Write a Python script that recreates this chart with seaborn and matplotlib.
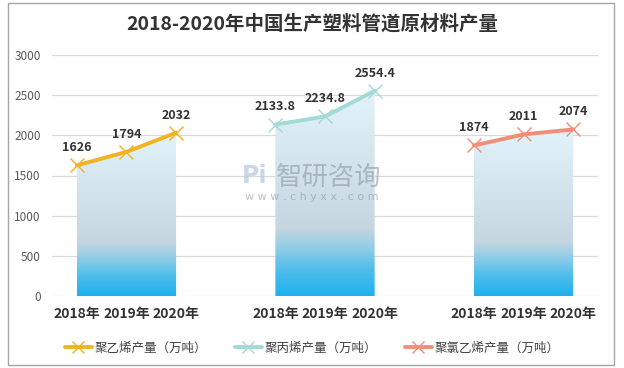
import numpy as np
import pandas as pd
import matplotlib
matplotlib.use("Agg")
import matplotlib.pyplot as plt
from matplotlib.colors import LinearSegmentedColormap
from matplotlib.lines import Line2D
from matplotlib.patches import Rectangle
import seaborn as sns

# ---- data ----
years = ["2018年", "2019年", "2020年"]
series_names = ["聚乙烯产量（万吨）", "聚丙烯产量（万吨）", "聚氯乙烯产量（万吨）"]
pe_values = [1626, 1794, 2032]
pp_values = [2133.8, 2234.8, 2554.4]
pvc_values = [1874, 2011, 2074]
value_labels = [["1626", "1794", "2032"],
                ["2133.8", "2234.8", "2554.4"],
                ["1874", "2011", "2074"]]
y_ticks = [0, 500, 1000, 1500, 2000, 2500, 3000]
title = "2018-2020年中国生产塑料管道原材料产量"

colors = ["#F2B321", "#A2DAD6", "#F28E78"]

sns.set_theme(style="white")
plt.rcParams['font.family'] = ['Noto Sans CJK SC', 'DejaVu Sans']

rows = []
all_vals = [pe_values, pp_values, pvc_values]
for g, (name, vals) in enumerate(zip(series_names, all_vals)):
    for i, (yr, v) in enumerate(zip(years, vals)):
        rows.append({"series": name, "pos": g * 4 + i, "year": yr, "value": v})
df = pd.DataFrame(rows)

fig = plt.figure(figsize=(6.24, 3.68), dpi=100)
ax = fig.add_axes([52/624, 1 - 296/368, 546/624, (296 - 55)/368])

# gradient fill
cmap = LinearSegmentedColormap.from_list("g", [
    (0.0, "#1DB2EE"), (0.12, "#4DBDEB"), (0.25, "#9BCFE6"),
    (0.33, "#C6D6E0"), (0.55, "#CFE0EA"), (1.0, "#E3F3FA")])
grad = np.linspace(0, 1, 256).reshape(-1, 1)
for g, name in enumerate(series_names):
    sub = df[df.series == name]
    xs = sub.pos.values
    ys = sub.value.values
    poly = ax.fill_between(xs, ys, 0, color="none", linewidth=0)
    im = ax.imshow(grad, cmap=cmap, origin="lower", aspect="auto",
                   extent=[xs.min(), xs.max(), 0, ys.max()], zorder=1)
    im.set_clip_path(poly.get_paths()[0], transform=ax.transData)

sns.lineplot(data=df, x="pos", y="value", hue="series", palette=colors,
             units="series", estimator=None, marker="x", markersize=10,
             markeredgewidth=1.0, linewidth=2.8, ax=ax, legend=False, zorder=3)
for ln in ax.lines:
    ln.set_markeredgecolor(ln.get_color())
    ln.set_markerfacecolor(ln.get_color())

for g, name in enumerate(series_names):
    sub = df[df.series == name]
    for (x, y), lab in zip(zip(sub.pos.values, sub.value.values), value_labels[g]):
        ax.annotate(lab, (x, y), xytext=(0, 8), textcoords="offset points",
                    ha="center", va="bottom", fontsize=9, fontweight="bold",
                    color="#333333", zorder=4)

ax.set_xlim(-0.5, 10.5)
ax.set_ylim(0, 3000)
ax.set_yticks(y_ticks)
ax.set_yticklabels([str(t) for t in y_ticks], fontsize=8.5, color="#595959")
ax.set_xticks(df.pos.values)
ax.set_xticklabels(df.year.values, fontsize=10, fontweight="bold", color="#333333")
ax.tick_params(axis="x", length=0, pad=8)
ax.tick_params(axis="y", length=0, pad=8)
ax.grid(axis="y", color="#D9D9D9", linewidth=0.9, zorder=0)
ax.set_axisbelow(True)
for s in ax.spines.values():
    s.set_visible(False)
ax.set_xlabel("")
ax.set_ylabel("")

# title
fig.text(0.5, 1 - 24/368, title, ha="center", va="center", fontsize=14,
         fontweight="bold", color="#333333")

# watermark
fig.text(329/624, 1 - 177/368, "智研咨询", ha="center", va="center",
         fontsize=19, color="#9097A0", alpha=0.6)
fig.text(312/624, 1 - 197/368, "w w w . c h y x x . c o m", ha="center",
         va="center", fontsize=8, color="#9097A0", alpha=0.6, family="DejaVu Sans")
fig.text(255/624, 1 - 176/368, "Pi", ha="center", va="center", fontsize=17,
         fontweight="bold", color="#B5C7DD", alpha=0.7, family="DejaVu Sans")

# legend
handles = [Line2D([0], [0], color=c, lw=2.8, marker="x", markersize=9,
                  markeredgewidth=1.0) for c in colors]
fig.legend(handles, series_names, loc="center", bbox_to_anchor=(0.5, 1 - 348/368),
           ncol=3, frameon=False, fontsize=9, handlelength=2.2, handletextpad=0.2,
           columnspacing=2.2, labelcolor="#404040")

# border
fig.patches.append(Rectangle((8/624, 3/368), 606/624, 362/368, transform=fig.transFigure,
                             fill=False, edgecolor="#A6A6A6", linewidth=1.0))

fig.savefig("out.png", dpi=100)
